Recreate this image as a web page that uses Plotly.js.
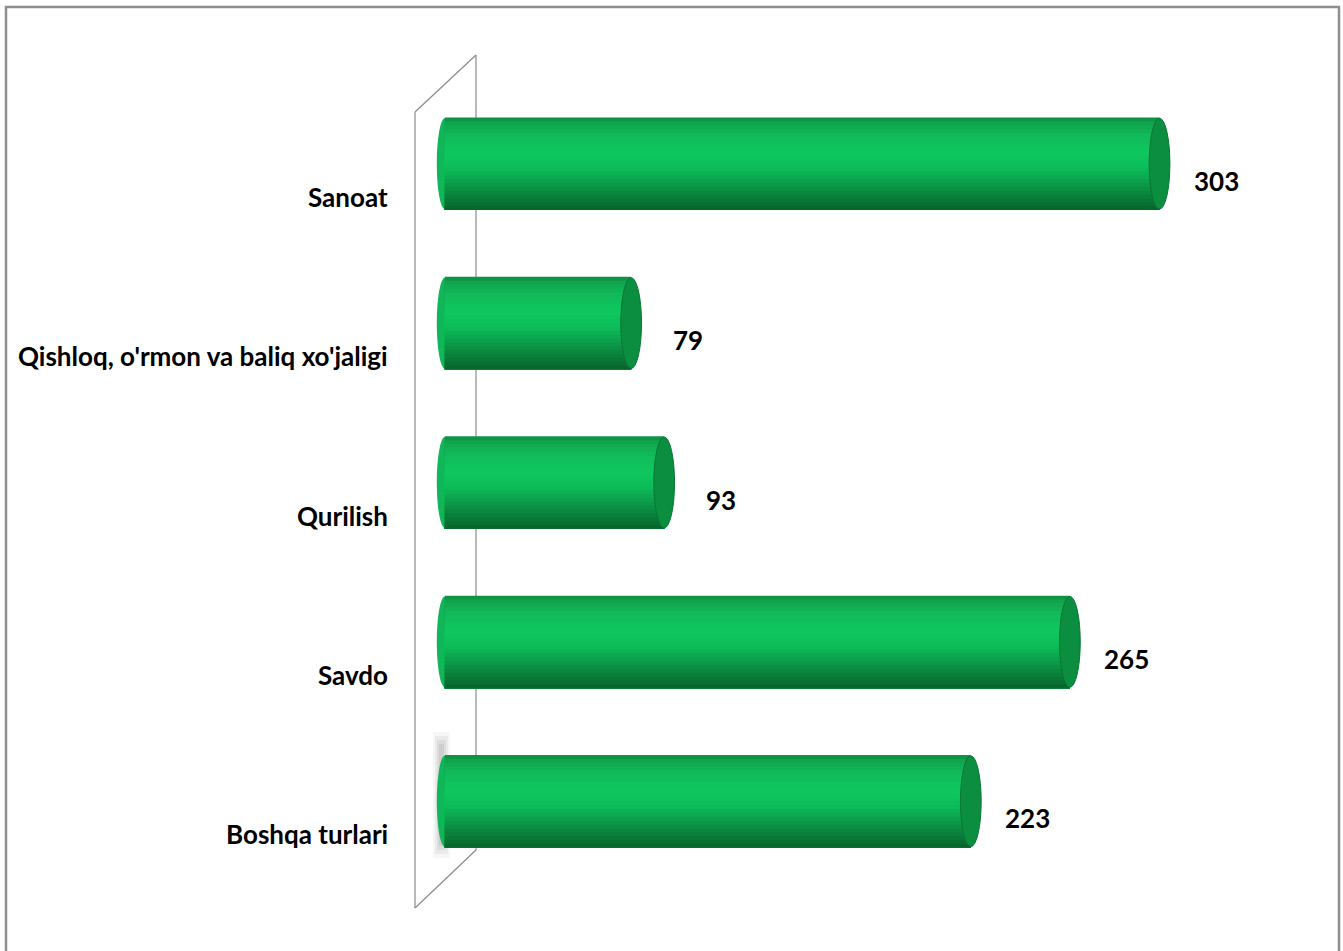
<!DOCTYPE html>
<html>
<head>
<meta charset="utf-8">
<script src="https://cdn.plot.ly/plotly-3.0.1.min.js"></script>
<style>html,body{margin:0;padding:0;background:#fff;}#chart{width:1343px;height:951px;}</style>
</head>
<body>
<div id="chart"></div>
<script>
const categories = ['Sanoat', "Qishloq, o'rmon va baliq xo'jaligi", 'Qurilish', 'Savdo', 'Boshqa turlari'];
const values = [303, 79, 93, 265, 223];
const valueLabels = ['303', '79', '93', '265', '223'];

const W = 1343, H = 951;
const M = {l: 433, r: 108, t: 84, b: 70};
const pw = W - M.l - M.r, ph = H - M.t - M.b;
const px = x => (x - M.l) / pw;
const py = y => (H - M.b - y) / ph;

const FONT = 'Lato, "Open Sans", sans-serif';

const stops = [
  [0.00, [14,140,66]], [0.06, [16,164,78]], [0.18, [18,184,89]], [0.38, [14,200,95]],
  [0.55, [13,188,89]], [0.70, [11,158,75]], [0.85, [10,128,59]], [1.00, [7,100,44]]
];
function colAt(t){
  for (let i=1;i<stops.length;i++){
    if (t<=stops[i][0]){
      const a=stops[i-1], b=stops[i], f=(t-a[0])/(b[0]-a[0]);
      const c=a[1].map((v,k)=>Math.round(v+(b[1][k]-v)*f));
      return 'rgb('+c.join(',')+')';
    }
  }
  return 'rgb(7,100,44)';
}
const barW = 0.58, N = 24, bw = barW / N;
const traces = [];
for (let k=0;k<N;k++){
  traces.push({
    type:'bar', orientation:'h', x: values, y: categories,
    width: barW - k*bw, offset: -barW/2 + k*bw,
    marker:{color: colAt((k+0.5)/N), line:{width:0}},
    hoverinfo:'skip', showlegend:false
  });
}

const shapes = [];
shapes.push({type:'rect', xref:'paper', yref:'paper', x0:px(6), x1:px(1339), y0:py(7), y1:py(965),
  line:{color:'#8f8f8f', width:2.5}, fillcolor:'rgba(0,0,0,0)'});
const wall = {color:'#8a8a8a', width:1.2};
shapes.push({type:'line', xref:'paper', yref:'paper', x0:px(476), x1:px(476), y0:py(55), y1:py(850), line:wall, layer:'below'});
shapes.push({type:'line', xref:'paper', yref:'paper', x0:px(415), x1:px(415), y0:py(112), y1:py(908), line:wall});
shapes.push({type:'line', xref:'paper', yref:'paper', x0:px(415), x1:px(476), y0:py(112), y1:py(55), line:wall});
shapes.push({type:'line', xref:'paper', yref:'paper', x0:px(415), x1:px(476), y0:py(908), y1:py(850), line:wall});
[[433,450,0.06,732,858],[435,448,0.08,736,854],[437,446,0.10,740,850],[439,444,0.12,744,846]].forEach(s=>{
  shapes.push({type:'rect', xref:'paper', yref:'paper', x0:px(s[0]), x1:px(s[1]), y0:py(s[3]), y1:py(s[4]),
    line:{width:0}, fillcolor:'rgba(100,100,100,'+s[2]+')', layer:'below'});
});

values.forEach((v,i)=>{
  shapes.push({type:'circle', xref:'x', yref:'y', x0:-3.4, x1:3.4, y0:i-barW/2+0.005, y1:i+barW/2-0.005,
    fillcolor:'rgb(16,182,87)', line:{width:0}, layer:'below'});
  shapes.push({type:'circle', xref:'x', yref:'y', x0:v-4.4, x1:v+4.4, y0:i-barW/2+0.005, y1:i+barW/2-0.005,
    fillcolor:'rgb(11,142,64)', line:{color:'rgb(8,118,52)', width:1}});
});

const annotations = [];
values.forEach((v,i)=>{
  annotations.push({x:v, y:categories[i], xref:'x', yref:'y', text:'<b>'+valueLabels[i]+'</b>', showarrow:false,
    xanchor:'center', yanchor:'middle', xshift:57, yshift:-17, font:{family:FONT, size:26, color:'#000'}});
  annotations.push({x:px(390), y:categories[i], xref:'paper', yref:'y', text:'<b>'+categories[i]+'</b>', showarrow:false,
    xanchor:'right', yanchor:'middle', yshift:-33, font:{family:FONT, size:26, color:'#000'}});
});

const layout = {
  width:W, height:H, margin:M, paper_bgcolor:'#fff', plot_bgcolor:'rgba(0,0,0,0)',
  barmode:'overlay', showlegend:false,
  xaxis:{range:[-5,335], visible:false, fixedrange:true},
  yaxis:{type:'category', categoryorder:'array', categoryarray:categories, range:[4.5,-0.5],
    showticklabels:false, showgrid:false, zeroline:false, showline:false, ticks:'', fixedrange:true},
  shapes:shapes, annotations:annotations
};
Plotly.newPlot('chart', traces, layout, {displayModeBar:false, staticPlot:true});
</script>
</body>
</html>
